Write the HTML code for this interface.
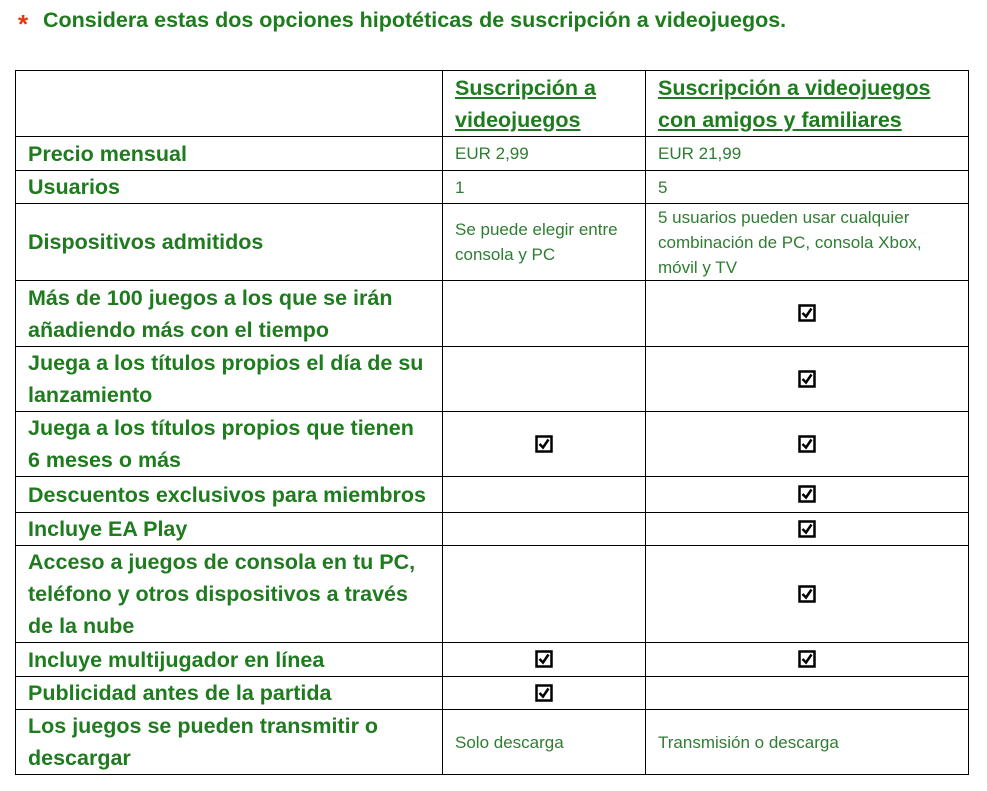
<!DOCTYPE html>
<html><head><meta charset="utf-8"><style>
body{margin:0;background:#fff;width:987px;height:791px;position:relative;overflow:hidden;font-family:"Liberation Sans",sans-serif}
.t{position:absolute;left:43px;top:8px;font-size:21.5px;font-weight:bold;color:#1e7b1e;white-space:nowrap}
.ast{position:absolute;left:18px;top:9px;font-size:26px;font-weight:bold;color:#e03a10}
table{position:absolute;left:15px;top:70px;border-collapse:collapse;table-layout:fixed;width:953px}
td{border:1.5px solid #000;padding:0 12px;vertical-align:middle}
td.l{font-size:21.5px;font-weight:bold;color:#1e7b1e;line-height:32px}
td.d{font-size:17px;color:#2e7d32;line-height:25px}
td.h{font-size:21.5px;font-weight:bold;color:#1e7b1e;line-height:32px;text-decoration:underline}
td.c{text-align:center;padding:0}
svg{vertical-align:middle}
</style></head><body>
<div class="ast">*</div>
<div class="t">Considera estas dos opciones hipotéticas de suscripción a videojuegos.</div>
<table>
<colgroup><col style="width:427px"><col style="width:203px"><col style="width:323px"></colgroup>
<tr style="height:66px"><td></td><td class="h">Suscripción a videojuegos</td><td class="h">Suscripción a videojuegos con amigos y familiares</td></tr>
<tr style="height:34px"><td class="l">Precio mensual</td><td class="d">EUR 2,99</td><td class="d">EUR 21,99</td></tr>
<tr style="height:33px"><td class="l">Usuarios</td><td class="d">1</td><td class="d">5</td></tr>
<tr style="height:77px"><td class="l">Dispositivos admitidos</td><td class="d">Se puede elegir entre consola y PC</td><td class="d">5 usuarios pueden usar cualquier combinación de PC, consola Xbox, móvil y TV</td></tr>
<tr style="height:66px"><td class="l">Más de 100 juegos a los que se irán añadiendo más con el tiempo</td><td></td><td class="c">CB</td></tr>
<tr style="height:65px"><td class="l">Juega a los títulos propios el día de su lanzamiento</td><td></td><td class="c">CB</td></tr>
<tr style="height:65px"><td class="l">Juega a los títulos propios que tienen 6 meses o más</td><td class="c">CB</td><td class="c">CB</td></tr>
<tr style="height:36px"><td class="l">Descuentos exclusivos para miembros</td><td></td><td class="c">CB</td></tr>
<tr style="height:32px"><td class="l">Incluye EA Play</td><td></td><td class="c">CB</td></tr>
<tr style="height:97px"><td class="l">Acceso a juegos de consola en tu PC, teléfono y otros dispositivos a través de la nube</td><td></td><td class="c">CB</td></tr>
<tr style="height:34px"><td class="l">Incluye multijugador en línea</td><td class="c">CB</td><td class="c">CB</td></tr>
<tr style="height:33px"><td class="l">Publicidad antes de la partida</td><td class="c">CB</td><td></td></tr>
<tr style="height:64px"><td class="l">Los juegos se pueden transmitir o descargar</td><td class="d">Solo descarga</td><td class="d">Transmisión o descarga</td></tr>
</table>
<script>
document.querySelectorAll('td.c').forEach(function(td){if(td.textContent==='CB')td.innerHTML='<svg width="18" height="18" viewBox="0 0 18 18"><rect x="1.5" y="1.5" width="15" height="15" fill="#fff" stroke="#000" stroke-width="2.5"/><path d="M4.5 9 L8 12.5 L13.5 4.5" fill="none" stroke="#000" stroke-width="2.5"/></svg>';});
</script>
</body></html>
